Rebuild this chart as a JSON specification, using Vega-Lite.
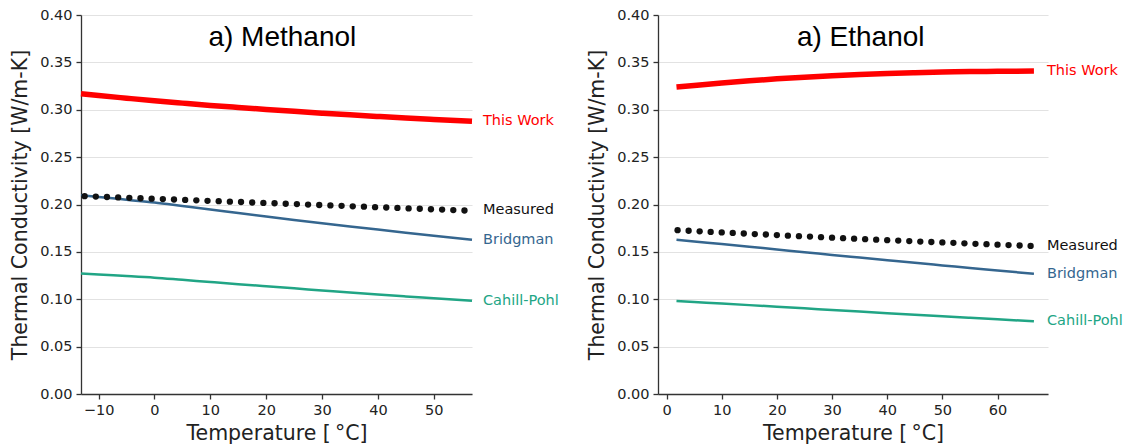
{
  "$schema": "https://vega.github.io/schema/vega-lite/v6.json",
  "background": "white",
  "padding": {"left": 10, "top": 7, "right": 5, "bottom": 0},
  "bounds": "flush",
  "spacing": 186,
  "datasets": {
    "meth": [
      {"series":"This Work","t":-13.15,"k":0.3169},{"series":"This Work","t":-10,"k":0.3150},{"series":"This Work","t":-5,"k":0.3122},{"series":"This Work","t":0,"k":0.3095},{"series":"This Work","t":5,"k":0.3070},{"series":"This Work","t":10,"k":0.3046},{"series":"This Work","t":15,"k":0.3024},{"series":"This Work","t":20,"k":0.3003},{"series":"This Work","t":25,"k":0.2983},{"series":"This Work","t":30,"k":0.2964},{"series":"This Work","t":35,"k":0.2946},{"series":"This Work","t":40,"k":0.2929},{"series":"This Work","t":45,"k":0.2913},{"series":"This Work","t":50,"k":0.2898},{"series":"This Work","t":56.85,"k":0.2879},
      {"series":"Bridgman","t":-13.15,"k":0.2097},{"series":"Bridgman","t":-10,"k":0.2080},{"series":"Bridgman","t":-5,"k":0.2050},{"series":"Bridgman","t":0,"k":0.2020},{"series":"Bridgman","t":5,"k":0.1984},{"series":"Bridgman","t":10,"k":0.1948},{"series":"Bridgman","t":15,"k":0.1910},{"series":"Bridgman","t":20,"k":0.1873},{"series":"Bridgman","t":25,"k":0.1837},{"series":"Bridgman","t":30,"k":0.1802},{"series":"Bridgman","t":35,"k":0.1768},{"series":"Bridgman","t":40,"k":0.1735},{"series":"Bridgman","t":45,"k":0.1703},{"series":"Bridgman","t":50,"k":0.1671},{"series":"Bridgman","t":56.85,"k":0.1628},
      {"series":"Cahill-Pohl","t":-13.15,"k":0.1271},{"series":"Cahill-Pohl","t":-10,"k":0.1260},{"series":"Cahill-Pohl","t":-5,"k":0.1245},{"series":"Cahill-Pohl","t":0,"k":0.1228},{"series":"Cahill-Pohl","t":5,"k":0.1205},{"series":"Cahill-Pohl","t":10,"k":0.1182},{"series":"Cahill-Pohl","t":15,"k":0.1159},{"series":"Cahill-Pohl","t":20,"k":0.1137},{"series":"Cahill-Pohl","t":25,"k":0.1115},{"series":"Cahill-Pohl","t":30,"k":0.1093},{"series":"Cahill-Pohl","t":35,"k":0.1071},{"series":"Cahill-Pohl","t":40,"k":0.1050},{"series":"Cahill-Pohl","t":45,"k":0.1030},{"series":"Cahill-Pohl","t":50,"k":0.1010},{"series":"Cahill-Pohl","t":56.85,"k":0.0983},
      {"series":"Measured","t":-12.5,"k":0.2088},{"series":"Measured","t":-10.5,"k":0.2084},{"series":"Measured","t":-8.5,"k":0.2079},{"series":"Measured","t":-6.5,"k":0.2075},{"series":"Measured","t":-4.5,"k":0.2070},{"series":"Measured","t":-2.5,"k":0.2066},{"series":"Measured","t":-0.5,"k":0.2062},{"series":"Measured","t":1.5,"k":0.2057},{"series":"Measured","t":3.5,"k":0.2053},{"series":"Measured","t":5.5,"k":0.2048},{"series":"Measured","t":7.5,"k":0.2044},{"series":"Measured","t":9.5,"k":0.2039},{"series":"Measured","t":11.5,"k":0.2035},{"series":"Measured","t":13.5,"k":0.2030},{"series":"Measured","t":15.5,"k":0.2026},{"series":"Measured","t":17.5,"k":0.2021},{"series":"Measured","t":19.5,"k":0.2017},{"series":"Measured","t":21.5,"k":0.2013},{"series":"Measured","t":23.5,"k":0.2008},{"series":"Measured","t":25.5,"k":0.2004},{"series":"Measured","t":27.5,"k":0.1999},{"series":"Measured","t":29.5,"k":0.1995},{"series":"Measured","t":31.5,"k":0.1990},{"series":"Measured","t":33.5,"k":0.1986},{"series":"Measured","t":35.5,"k":0.1981},{"series":"Measured","t":37.5,"k":0.1977},{"series":"Measured","t":39.5,"k":0.1972},{"series":"Measured","t":41.5,"k":0.1968},{"series":"Measured","t":43.5,"k":0.1964},{"series":"Measured","t":45.5,"k":0.1959},{"series":"Measured","t":47.5,"k":0.1955},{"series":"Measured","t":49.5,"k":0.1950},{"series":"Measured","t":51.5,"k":0.1946},{"series":"Measured","t":53.5,"k":0.1941},{"series":"Measured","t":55.5,"k":0.1937}
    ],
    "eth": [
      {"series":"This Work","t":1.8,"k":0.3240},{"series":"This Work","t":5,"k":0.3257},{"series":"This Work","t":10,"k":0.3283},{"series":"This Work","t":15,"k":0.3306},{"series":"This Work","t":20,"k":0.3326},{"series":"This Work","t":25,"k":0.3343},{"series":"This Work","t":30,"k":0.3358},{"series":"This Work","t":35,"k":0.3371},{"series":"This Work","t":40,"k":0.3382},{"series":"This Work","t":45,"k":0.3391},{"series":"This Work","t":50,"k":0.3398},{"series":"This Work","t":55,"k":0.3403},{"series":"This Work","t":60,"k":0.3406},{"series":"This Work","t":66.6,"k":0.3408},
      {"series":"Bridgman","t":1.8,"k":0.1627},{"series":"Bridgman","t":5,"k":0.1609},{"series":"Bridgman","t":10,"k":0.1582},{"series":"Bridgman","t":15,"k":0.1554},{"series":"Bridgman","t":20,"k":0.1525},{"series":"Bridgman","t":25,"k":0.1497},{"series":"Bridgman","t":30,"k":0.1468},{"series":"Bridgman","t":35,"k":0.1440},{"series":"Bridgman","t":40,"k":0.1412},{"series":"Bridgman","t":45,"k":0.1384},{"series":"Bridgman","t":50,"k":0.1357},{"series":"Bridgman","t":55,"k":0.1330},{"series":"Bridgman","t":60,"k":0.1304},{"series":"Bridgman","t":66.6,"k":0.1268},
      {"series":"Cahill-Pohl","t":1.8,"k":0.0982},{"series":"Cahill-Pohl","t":5,"k":0.0971},{"series":"Cahill-Pohl","t":10,"k":0.0955},{"series":"Cahill-Pohl","t":15,"k":0.0938},{"series":"Cahill-Pohl","t":20,"k":0.0921},{"series":"Cahill-Pohl","t":25,"k":0.0904},{"series":"Cahill-Pohl","t":30,"k":0.0887},{"series":"Cahill-Pohl","t":35,"k":0.0870},{"series":"Cahill-Pohl","t":40,"k":0.0853},{"series":"Cahill-Pohl","t":45,"k":0.0836},{"series":"Cahill-Pohl","t":50,"k":0.0820},{"series":"Cahill-Pohl","t":55,"k":0.0804},{"series":"Cahill-Pohl","t":60,"k":0.0788},{"series":"Cahill-Pohl","t":66.6,"k":0.0768},
      {"series":"Measured","t":2,"k":0.1729},{"series":"Measured","t":4,"k":0.1723},{"series":"Measured","t":6,"k":0.1717},{"series":"Measured","t":8,"k":0.1711},{"series":"Measured","t":10,"k":0.1705},{"series":"Measured","t":12,"k":0.1700},{"series":"Measured","t":14,"k":0.1694},{"series":"Measured","t":16,"k":0.1688},{"series":"Measured","t":18,"k":0.1683},{"series":"Measured","t":20,"k":0.1677},{"series":"Measured","t":22,"k":0.1671},{"series":"Measured","t":24,"k":0.1666},{"series":"Measured","t":26,"k":0.1661},{"series":"Measured","t":28,"k":0.1655},{"series":"Measured","t":30,"k":0.1650},{"series":"Measured","t":32,"k":0.1645},{"series":"Measured","t":34,"k":0.1639},{"series":"Measured","t":36,"k":0.1634},{"series":"Measured","t":38,"k":0.1629},{"series":"Measured","t":40,"k":0.1624},{"series":"Measured","t":42,"k":0.1619},{"series":"Measured","t":44,"k":0.1614},{"series":"Measured","t":46,"k":0.1609},{"series":"Measured","t":48,"k":0.1604},{"series":"Measured","t":50,"k":0.1600},{"series":"Measured","t":52,"k":0.1595},{"series":"Measured","t":54,"k":0.1590},{"series":"Measured","t":56,"k":0.1585},{"series":"Measured","t":58,"k":0.1581},{"series":"Measured","t":60,"k":0.1576},{"series":"Measured","t":62,"k":0.1572},{"series":"Measured","t":64,"k":0.1567},{"series":"Measured","t":66,"k":0.1563}
    ]
  },
  "hconcat": [
    {
      "width": 391,
      "height": 379,
      "data": {"name": "meth"},
      "encoding": {
        "x": {"field": "t", "type": "quantitative", "scale": {"domain": [-13.15, 56.85], "nice": false, "zero": false},
              "axis": {"values": [-10, 0, 10, 20, 30, 40, 50], "title": "Temperature [\u2009°C]", "titlePadding": 7}},
        "y": {"field": "k", "type": "quantitative", "scale": {"domain": [0, 0.4], "nice": false},
              "axis": {"values": [0, 0.05, 0.1, 0.15, 0.2, 0.25, 0.3, 0.35, 0.4], "format": ".2f", "grid": true, "gridColor": "#e2e2e2", "gridWidth": 1.2, "title": "Thermal Conductivity [W/m-K]", "titlePadding": 9}},
        "color": {"field": "series", "type": "nominal", "scale": {"domain": ["This Work", "Bridgman", "Cahill-Pohl", "Measured"], "range": ["#ff0000", "#35668f", "#21a585", "#111111"]}, "legend": null}
      },
      "layer": [
        {"transform": [{"filter": "datum.series === 'Bridgman' || datum.series === 'Cahill-Pohl'"}], "mark": {"type": "line", "strokeWidth": 2.5, "interpolate": "monotone"}},
        {"transform": [{"filter": "datum.series === 'Measured'"}], "mark": {"type": "point", "filled": true, "size": 40, "opacity": 1}},
        {"transform": [{"filter": "datum.series === 'This Work'"}], "mark": {"type": "line", "strokeWidth": 5.5, "interpolate": "monotone"}},
        {
          "transform": [
            {"aggregate": [{"op": "argmax", "field": "t", "as": "last"}], "groupby": ["series"]},
            {"joinaggregate": [{"op": "max", "field": "last.t", "as": "xend"}]}
          ],
          "mark": {"type": "text", "align": "left", "baseline": "middle", "dx": 11, "fontSize": 14.5, "font": "DejaVu Sans"},
          "encoding": {
            "x": {"field": "xend", "type": "quantitative"},
            "y": {"field": "last.k", "type": "quantitative"},
            "text": {"field": "series"}
          }
        },
        {
          "transform": [{"aggregate": [{"op": "min", "field": "t", "as": "t"}, {"op": "min", "field": "k", "as": "k"}]}],
          "mark": {"type": "text", "align": "center", "baseline": "alphabetic", "fontSize": 28, "font": "Liberation Sans", "color": "#000000"},
          "encoding": {
            "x": {"datum": 22.9, "type": "quantitative"},
            "y": {"datum": 0.367, "type": "quantitative"},
            "text": {"value": "a) Methanol"},
            "color": {"value": "#000000"}
          }
        }
      ]
    },
    {
      "width": 390,
      "height": 379,
      "data": {"name": "eth"},
      "encoding": {
        "x": {"field": "t", "type": "quantitative", "scale": {"domain": [-1.55, 69.15], "nice": false, "zero": false},
              "axis": {"values": [0, 10, 20, 30, 40, 50, 60], "title": "Temperature [\u2009°C]", "titlePadding": 7}},
        "y": {"field": "k", "type": "quantitative", "scale": {"domain": [0, 0.4], "nice": false},
              "axis": {"values": [0, 0.05, 0.1, 0.15, 0.2, 0.25, 0.3, 0.35, 0.4], "format": ".2f", "grid": true, "gridColor": "#e2e2e2", "gridWidth": 1.2, "title": "Thermal Conductivity [W/m-K]", "titlePadding": 9}},
        "color": {"field": "series", "type": "nominal", "scale": {"domain": ["This Work", "Bridgman", "Cahill-Pohl", "Measured"], "range": ["#ff0000", "#35668f", "#21a585", "#111111"]}, "legend": null}
      },
      "layer": [
        {"transform": [{"filter": "datum.series === 'Bridgman' || datum.series === 'Cahill-Pohl'"}], "mark": {"type": "line", "strokeWidth": 2.5, "interpolate": "monotone"}},
        {"transform": [{"filter": "datum.series === 'Measured'"}], "mark": {"type": "point", "filled": true, "size": 40, "opacity": 1}},
        {"transform": [{"filter": "datum.series === 'This Work'"}], "mark": {"type": "line", "strokeWidth": 5.5, "interpolate": "monotone"}},
        {
          "transform": [
            {"aggregate": [{"op": "argmax", "field": "t", "as": "last"}], "groupby": ["series"]},
            {"joinaggregate": [{"op": "max", "field": "last.t", "as": "xend"}]}
          ],
          "mark": {"type": "text", "align": "left", "baseline": "middle", "dx": 13, "fontSize": 14.5, "font": "DejaVu Sans"},
          "encoding": {
            "x": {"field": "xend", "type": "quantitative"},
            "y": {"field": "last.k", "type": "quantitative"},
            "text": {"field": "series"}
          }
        },
        {
          "transform": [{"aggregate": [{"op": "min", "field": "t", "as": "t"}, {"op": "min", "field": "k", "as": "k"}]}],
          "mark": {"type": "text", "align": "center", "baseline": "alphabetic", "fontSize": 28, "font": "Liberation Sans", "color": "#000000"},
          "encoding": {
            "x": {"datum": 35.2, "type": "quantitative"},
            "y": {"datum": 0.367, "type": "quantitative"},
            "text": {"value": "a) Ethanol"},
            "color": {"value": "#000000"}
          }
        }
      ]
    }
  ],
  "config": {
    "view": {"stroke": null},
    "axis": {"labelFont": "DejaVu Sans", "labelFontSize": 14.5, "labelColor": "#222222", "titleFont": "DejaVu Sans", "titleFontSize": 20.5, "titleFontWeight": "normal", "titleColor": "#222222", "domainColor": "#333333", "tickColor": "#333333", "domainWidth": 1.3, "tickWidth": 1.3, "tickSize": 5, "labelPadding": 4, "grid": false},
    "text": {"font": "DejaVu Sans"}
  }
}
